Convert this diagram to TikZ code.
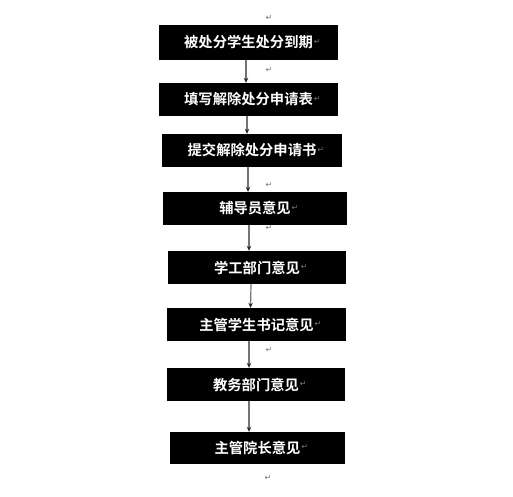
\documentclass[tikz,border=0pt]{standalone}
\usepackage{fontspec}
\newfontfamily\cjk{Noto Sans CJK SC Bold}
\newfontfamily\markfont{DejaVu Sans}
\usetikzlibrary{arrows.meta,positioning}
\tikzset{
  blk/.style={fill=black,draw=none,inner sep=0pt},
  txt/.style={text=white,inner sep=0pt,font=\cjk\fontsize{14.3}{14.3}\selectfont},
  pmark/.style={text=black!55,inner sep=0pt,font=\markfont\fontsize{8}{8}\selectfont},
  arr/.style={draw=gray!90!black,line width=1.2pt,-{Stealth[length=5pt,width=4.5pt,color=black!85]}}
}
\begin{document}
\begin{tikzpicture}[x=1pt,y=-1pt]
\useasboundingbox[fill=white] (0,0) rectangle (513,496);
% boxes
\node[blk,minimum width=179,minimum height=35] (b1) at (248.5,42.5) {};
\node[blk,minimum width=179,minimum height=33] (b2) at (248.5,99.5) {};
\node[blk,minimum width=180,minimum height=33] (b3) at (252,150.5) {};
\node[blk,minimum width=184,minimum height=33] (b4) at (255,208.5) {};
\node[blk,minimum width=178,minimum height=33] (b5) at (257,267.5) {};
\node[blk,minimum width=179,minimum height=33] (b6) at (256.5,324.5) {};
\node[blk,minimum width=178,minimum height=33] (b7) at (256,384.5) {};
\node[blk,minimum width=175,minimum height=32] (b8) at (257.5,448) {};
% texts
\node[txt] (t1) at (b1.center) {被处分学生处分到期};
\node[txt] (t2) at (b2.center) {填写解除处分申请表};
\node[txt] (t3) at (b3.center) {提交解除处分申请书};
\node[txt] (t4) at (b4.center) {辅导员意见};
\node[txt] (t5) at (b5.center) {学工部门意见};
\node[txt] (t6) at (b6.center) {主管学生书记意见};
\node[txt] (t7) at (b7.center) {教务部门意见};
\node[txt] (t8) at (b8.center) {主管院长意见};
% paragraph marks in boxes
\foreach \i in {1,...,8}{
  \node[pmark,anchor=west] (m\i) at ([xshift=0.5,yshift=1]t\i.east) {↵};
}
% free paragraph marks
\node[pmark] (p0) at (269,18) {↵};
\node[pmark] (p1) at (269,70) {↵};
\node[pmark] (p2) at (269,185) {↵};
\node[pmark] (p3) at (269,228) {↵};
\node[pmark] (p4) at (269,350) {↵};
\node[pmark] (p5) at (268,478) {↵};
% arrows
\draw[arr] ([xshift=-2.5]b1.south) -- ([xshift=-2.5]b1.south |- b2.north);
\draw[arr] ([xshift=-1.5]b2.south) -- ([xshift=-1.5]b2.south |- b3.north);
\draw[arr] ([xshift=-4]b3.south) -- ([xshift=-4]b3.south |- b4.north);
\draw[arr] ([xshift=-6]b4.south) -- ([xshift=-6]b4.south |- b5.north);
\draw[arr] ([xshift=-6]b5.south) -- ([xshift=-6.5]b5.south |- b6.north);
\draw[arr] ([xshift=-7.5]b6.south) -- ([xshift=-7.5]b6.south |- b7.north);
\draw[arr] ([xshift=-7]b7.south) -- ([xshift=-7]b7.south |- b8.north);
\end{tikzpicture}
\end{document}
